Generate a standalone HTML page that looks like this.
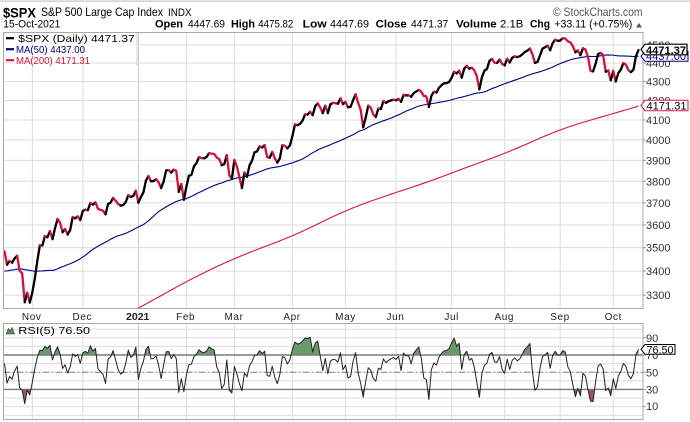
<!DOCTYPE html>
<html><head><meta charset="utf-8"><style>
html,body{margin:0;padding:0;background:#fff;width:690px;height:422px;overflow:hidden}
svg{display:block}
</style></head><body>
<svg id="c" width="690" height="422" viewBox="0 0 690 422" xmlns="http://www.w3.org/2000/svg" font-family="'Liberation Sans', Arial, sans-serif">
<defs>
<clipPath id="cpMain"><rect x="3.5" y="32.5" width="639.5" height="276"/></clipPath>
<clipPath id="cpG"><rect x="0" y="300" width="690" height="55"/></clipPath>
<clipPath id="cpR"><rect x="0" y="389.4" width="690" height="40"/></clipPath>
</defs>
<rect x="0" y="0" width="690" height="422" fill="#fff"/>
<rect x="0" y="0.5" width="690" height="1.2" fill="#c4c4c4"/>
<!-- header -->
<text x="3" y="17.5" font-size="14" font-weight="bold" textLength="33" lengthAdjust="spacingAndGlyphs">$SPX</text>
<text x="41" y="16" font-size="12" textLength="122" lengthAdjust="spacingAndGlyphs">S&amp;P 500 Large Cap Index</text>
<text x="168" y="16" font-size="11" textLength="23.5" lengthAdjust="spacingAndGlyphs">INDX</text>
<text x="553" y="16" font-size="12" fill="#555" textLength="89.5" lengthAdjust="spacingAndGlyphs">© StockCharts.com</text>
<text x="3.3" y="27.5" font-size="11" textLength="57" lengthAdjust="spacingAndGlyphs">15-Oct-2021</text>
<g font-size="11">
<text x="155" y="27.5" font-weight="bold" textLength="28" lengthAdjust="spacingAndGlyphs">Open</text>
<text x="188" y="27.5" textLength="37" lengthAdjust="spacingAndGlyphs">4447.69</text>
<text x="231" y="27.5" font-weight="bold" textLength="24" lengthAdjust="spacingAndGlyphs">High</text>
<text x="258.3" y="27.5" textLength="35" lengthAdjust="spacingAndGlyphs">4475.82</text>
<text x="302.7" y="27.5" font-weight="bold" textLength="24" lengthAdjust="spacingAndGlyphs">Low</text>
<text x="330" y="27.5" textLength="39" lengthAdjust="spacingAndGlyphs">4447.69</text>
<text x="375.7" y="27.5" font-weight="bold" textLength="31" lengthAdjust="spacingAndGlyphs">Close</text>
<text x="411" y="27.5" textLength="37.3" lengthAdjust="spacingAndGlyphs">4471.37</text>
<text x="456" y="27.5" font-weight="bold" textLength="40.7" lengthAdjust="spacingAndGlyphs">Volume</text>
<text x="500" y="27.5" textLength="23.3" lengthAdjust="spacingAndGlyphs">2.1B</text>
<text x="530" y="27.5" font-weight="bold" textLength="20" lengthAdjust="spacingAndGlyphs">Chg</text>
<text x="554.3" y="27.5" textLength="78" lengthAdjust="spacingAndGlyphs">+33.11 (+0.75%)</text>
</g>
<polygon points="636,27.5 642,27.5 639,23" fill="#555"/>

<g id="grid"></g>
<!-- legend -->
<line x1="137" y1="32.5" x2="137" y2="66" stroke="#d4d4d4" stroke-width="1"/>
<g id="main" clip-path="url(#cpMain)"></g>
<g font-size="10.5">
<line x1="6" y1="38.2" x2="14" y2="38.2" stroke="#000" stroke-width="2.2"/>
<text x="18.3" y="41.8" textLength="116.5" lengthAdjust="spacingAndGlyphs">$SPX (Daily) 4471.37</text>
<line x1="6" y1="49.2" x2="14" y2="49.2" stroke="#000080" stroke-width="2.2"/>
<text x="16" y="52.8" fill="#000080" textLength="69" lengthAdjust="spacingAndGlyphs">MA(50) 4437.00</text>
<line x1="6" y1="60.2" x2="14" y2="60.2" stroke="#dc143c" stroke-width="2.2"/>
<text x="16" y="63.8" fill="#dc143c" textLength="74" lengthAdjust="spacingAndGlyphs">MA(200) 4171.31</text>
</g>
<rect x="3.5" y="32.5" width="639.5" height="276" fill="none" stroke="#a8a8a8" stroke-width="1"/>
<g id="axis" font-size="11" fill="#333"></g>

<!-- price label boxes -->
<g font-size="11">
<path d="M641,56.2 L645,51.2 L688,51.2 L688,61.2 L645,61.2 Z" fill="#fff" stroke="#000080" stroke-width="1"/>
<text x="666" y="60.2" text-anchor="middle" fill="#000080" textLength="40" lengthAdjust="spacingAndGlyphs">4437.00</text>
<path d="M641,49.5 L645,44.2 L687,44.2 L687,54.8 L645,54.8 Z" fill="#fff" stroke="#000" stroke-width="1.2"/>
<text x="666" y="53.8" text-anchor="middle" font-weight="bold" textLength="40" lengthAdjust="spacingAndGlyphs">4471.37</text>
<path d="M641,105.5 L645,100.3 L688,100.3 L688,110.7 L645,110.7 Z" fill="#fff" stroke="#dc143c" stroke-width="1"/>
<text x="666.5" y="109.6" text-anchor="middle" fill="#000" textLength="40" lengthAdjust="spacingAndGlyphs">4171.31</text>
</g>

<!-- x axis labels -->
<g font-size="10" fill="#222" text-anchor="middle" letter-spacing="0.6">
<text x="31.7" y="320">Nov</text>
<text x="82.3" y="320">Dec</text>
<text x="137.7" y="320" font-weight="bold" font-size="10.5" letter-spacing="0">2021</text>
<text x="185.7" y="320">Feb</text>
<text x="234" y="320">Mar</text>
<text x="292" y="320">Apr</text>
<text x="345.5" y="320">May</text>
<text x="395.5" y="320">Jun</text>
<text x="451.7" y="320">Jul</text>
<text x="504.3" y="320">Aug</text>
<text x="560" y="320">Sep</text>
<text x="613.3" y="320">Oct</text>
</g>

<!-- RSI panel -->
<g id="rgrid"></g>
<g id="rsi"></g>
<rect x="3.5" y="323.5" width="639.5" height="96" fill="none" stroke="#a8a8a8" stroke-width="1"/>
<polygon points="6,334 8.5,328.5 10.5,331 12,327.5 14.5,334" fill="#5f8f5f" stroke="#333" stroke-width="0.6"/>
<text x="18.3" y="334" font-size="10.5" textLength="71.7" lengthAdjust="spacingAndGlyphs">RSI(5) 76.50</text>
<g font-size="11" fill="#333">
<text x="646" y="342.2">90</text>
<text x="646" y="359.2">70</text>
<text x="646" y="376.4">50</text>
<text x="646" y="393.6">30</text>
<text x="646" y="409.8">10</text>
</g>
<path d="M641,349.4 L645,344.5 L675,344.5 L675,354.3 L645,354.3 Z" fill="#fff" stroke="#000" stroke-width="1"/>
<text x="660" y="353.4" font-size="11" text-anchor="middle" textLength="27" lengthAdjust="spacingAndGlyphs">76.50</text>
</svg>
<script>
(function(){
var NS="http://www.w3.org/2000/svg";
function el(parent,tag,attrs,txt){var e=document.createElementNS(NS,tag);for(var k in attrs)e.setAttribute(k,attrs[k]);if(txt!=null)e.textContent=txt;parent.appendChild(e);return e;}
var pre=[3351.28,3360.47,3333.69,3380.35,3373.43,3372.85,3381.99,3389.78,3374.85,3385.51,3397.16,3431.28,3443.62,3478.73,3484.55,3508.01,3500.31,
3526.65,3580.84,3455.06,3426.96,3331.84,3398.96,3339.19,3340.97,3383.54,3401.20,3385.49,3357.01,3319.47,3281.06,3315.57,3236.92,3246.59,3298.46,3351.60,3335.47,3363.00,
3380.80,3348.42,3408.60,3360.97,3419.44,3446.83,3477.14,3534.22,3511.93,3488.67,3483.34];
var d=[3483.81,3426.92,3443.12,3435.56,3453.49,3465.39,3400.97,3390.68,3271.03,3310.11,3269.96,
3310.24,3369.16,3443.44,3510.45,3509.44,3550.50,3545.53,3572.66,3537.01,3585.15,3626.91,3609.53,3567.79,3581.87,3557.54,3577.59,3635.41,3629.65,3638.35,3621.63,
3662.45,3669.01,3666.72,3699.12,3691.96,3702.25,3672.82,3668.10,3663.46,3647.49,3694.62,3701.17,3722.48,3709.41,3694.92,3687.26,3690.01,3703.06,3735.36,3727.04,3732.04,3756.07,
3700.65,3726.86,3748.14,3803.79,3824.68,3799.61,3801.19,3809.84,3795.54,3768.25,3798.91,3851.85,3853.07,3841.47,3855.36,3849.62,3750.77,3787.38,3714.24,
3773.86,3826.31,3830.17,3871.74,3886.83,3915.59,3911.23,3909.88,3916.38,3934.83,3932.59,3931.33,3913.97,3906.71,3876.50,3881.37,3925.43,3829.34,3811.15,
3901.82,3870.29,3819.72,3768.47,3841.94,3821.35,3875.44,3898.81,3939.34,3943.34,3968.94,3962.71,3974.12,3915.46,3913.10,3940.59,3910.52,3889.14,3909.52,3974.54,3971.09,3958.55,3972.89,
4019.87,4077.91,4073.94,4079.95,4097.17,4128.80,4127.99,4141.59,4124.66,4170.42,4185.47,4163.26,4134.94,4173.42,4134.98,4180.17,4187.62,4186.72,4183.18,4211.47,4181.17,
4192.66,4164.66,4167.59,4201.62,4232.60,4188.43,4152.10,4063.04,4112.50,4173.85,4163.29,4127.83,4115.68,4159.12,4155.86,4197.05,4188.13,4195.99,4200.88,4204.11,
4202.04,4208.12,4192.85,4229.89,4226.52,4227.26,4219.55,4239.18,4247.44,4255.15,4246.59,4223.70,4221.86,4166.45,4224.79,4246.44,4241.84,4266.49,4280.70,4290.61,4291.80,4297.50,
4319.94,4352.34,4343.54,4358.13,4320.82,4369.55,4384.63,4369.21,4374.30,4360.03,4327.16,4258.49,4323.06,4358.69,4367.48,4411.79,4422.30,4401.46,4400.64,4419.15,4395.26,
4387.16,4423.15,4402.66,4429.10,4436.52,4432.35,4436.75,4447.70,4460.83,4468.00,4479.71,4448.08,4400.27,4405.80,4441.67,4479.53,4486.23,4496.19,4470.00,4509.37,4528.79,4522.68,
4524.09,4536.95,4535.43,4520.03,4514.07,4493.28,4458.58,4468.73,4443.05,4480.70,4473.75,4432.99,4357.73,4354.19,4395.64,4448.98,4455.48,4443.11,4352.63,4359.46,4307.54,
4357.04,4300.46,4345.72,4363.55,4399.76,4391.34,4361.19,4350.65,4363.80,4438.26,4471.37];
var all=pre.concat(d), P=pre.length;
function X(i){return 4.5+i*2.526;}
function Y(v){return 63+807*Math.log(4400/v);}
function RY(v){return 372.2-(v-50)*0.86;}
var grid=document.getElementById('grid'), main=document.getElementById('main'), axis=document.getElementById('axis');
var rgrid=document.getElementById('rgrid'), rsiG=document.getElementById('rsi');
var months=[32.3,82.8,138.4,186.4,234.4,292.5,345.5,396,451.6,504.7,560.2,613.3];
months.forEach(function(x,k){
  var c=(k==2)?'#c8c8c8':'#dcdcdc';
  el(grid,'line',{x1:x,y1:32.5,x2:x,y2:308.5,stroke:c,'stroke-width':1});
  el(rgrid,'line',{x1:x,y1:323.5,x2:x,y2:419.5,stroke:c,'stroke-width':1});
});
for(var v=3300;v<=4500;v+=100){
  var y=Y(v);
  el(grid,'line',{x1:(v==4500?137:3.5),y1:y,x2:643,y2:y,stroke:'#dcdcdc','stroke-width':1});
  el(axis,'line',{x1:643,y1:y,x2:646,y2:y,stroke:'#999','stroke-width':1});
  el(axis,'text',{x:646,y:y+4},String(v));
}
for(var r=0;r<=100;r+=10){
  var yy=RY(r);
  if(r==70||r==30||r==50) continue;
  el(rgrid,'line',{x1:3.5,y1:yy,x2:643,y2:yy,stroke:'#dcdcdc','stroke-width':1});
}
// MA200 from chart readings, smoothed
var m2=[[100,329],[138.3,308.3],[200,274],[250,251.7],[292.3,236.7],[345.7,210],[395.7,192.3],[430,181.7],[451.7,172.7],[510,151.7],[560,129],[636.7,106.7],[660,100]];
function interp(x){for(var k=1;k<m2.length;k++){if(x<=m2[k][0]){var a=m2[k-1],b=m2[k];var t=(x-a[0])/(b[0]-a[0]);return a[1]+t*(b[1]-a[1]);}}return m2[m2.length-1][1];}
var raw=[];for(var i=0;i<d.length+12;i++){raw.push(interp(X(i)));}
var s200=[];
for(var i=45;i<d.length;i++){
  var w=10,s=0,n=0;
  for(var k=i-w;k<=i+w;k++){if(k>=0&&k<raw.length){s+=raw[k];n++;}}
  var yv=s/n;
  if(i==d.length-1) yv=105.8;
  s200.push(X(i).toFixed(2)+','+yv.toFixed(2));
}
el(main,'polyline',{points:s200.join(' '),fill:'none',stroke:'#dc143c','stroke-width':1.1,'stroke-linejoin':'round'});
// MA50
var s50=[];
for(var i=0;i<d.length;i++){var s=0;for(var k=i;k<=i+P;k++)s+=all[k];s/= (P+1);s50.push(X(i).toFixed(2)+','+Y(s).toFixed(2));}
el(main,'polyline',{points:s50.join(' '),fill:'none',stroke:'#00008b','stroke-width':1.1,'stroke-linejoin':'round'});
// price runs
var runs=[],cur=null,curc=null;
for(var i=1;i<d.length;i++){
  var c=d[i]>=d[i-1]?'#000':'#d6113d';
  if(c!==curc){ if(cur)runs.push([curc,cur]); cur=[X(i-1).toFixed(2)+','+Y(d[i-1]).toFixed(2)]; curc=c; }
  cur.push(X(i).toFixed(2)+','+Y(d[i]).toFixed(2));
}
runs.push([curc,cur]);
runs.forEach(function(r){el(main,'polyline',{points:r[1].join(' '),fill:'none',stroke:r[0],'stroke-width':2.3,'stroke-linejoin':'round','stroke-linecap':'round'});});
// RSI(5) Wilder
var ag=0,al=0,rs=[];
for(var k=1;k<all.length;k++){
  var ch=all[k]-all[k-1],g=Math.max(ch,0),l=Math.max(-ch,0);
  if(k<=5){ag+=g/5;al+=l/5;}else{ag=(ag*4+g)/5;al=(al*4+l)/5;}
  if(k>=5)rs[k]=al===0?100:100-100/(1+ag/al);
}
var pts=[];
for(var i=0;i<d.length;i++){pts.push(X(i).toFixed(2)+','+RY(rs[i+P]).toFixed(2));}
var y70=RY(70),y30=RY(30),y50=RY(50);
var x0=X(0).toFixed(2),xn=X(d.length-1).toFixed(2);
el(rsiG,'polygon',{points:x0+','+y70+' '+pts.join(' ')+' '+xn+','+y70,fill:'#6a996a','clip-path':'url(#cpG)'});
el(rsiG,'polygon',{points:x0+','+y30+' '+pts.join(' ')+' '+xn+','+y30,fill:'#a3525e','clip-path':'url(#cpR)'});
el(rsiG,'line',{x1:3.5,y1:y70,x2:643,y2:y70,stroke:'#7a7a7a','stroke-width':1.4});
el(rsiG,'line',{x1:3.5,y1:y30,x2:643,y2:y30,stroke:'#7a7a7a','stroke-width':1.4});
el(rsiG,'line',{x1:3.5,y1:y50,x2:643,y2:y50,stroke:'#7a7a7a','stroke-width':1,'stroke-dasharray':'7,2,2,2'});
el(rsiG,'polyline',{points:pts.join(' '),fill:'none',stroke:'#222','stroke-width':1,'stroke-linejoin':'round'});
[90,70,50,30,10].forEach(function(r){var yy=RY(r);el(rsiG,'line',{x1:643,y1:yy,x2:646,y2:yy,stroke:'#999','stroke-width':1});});
})();
</script>
</body></html>
